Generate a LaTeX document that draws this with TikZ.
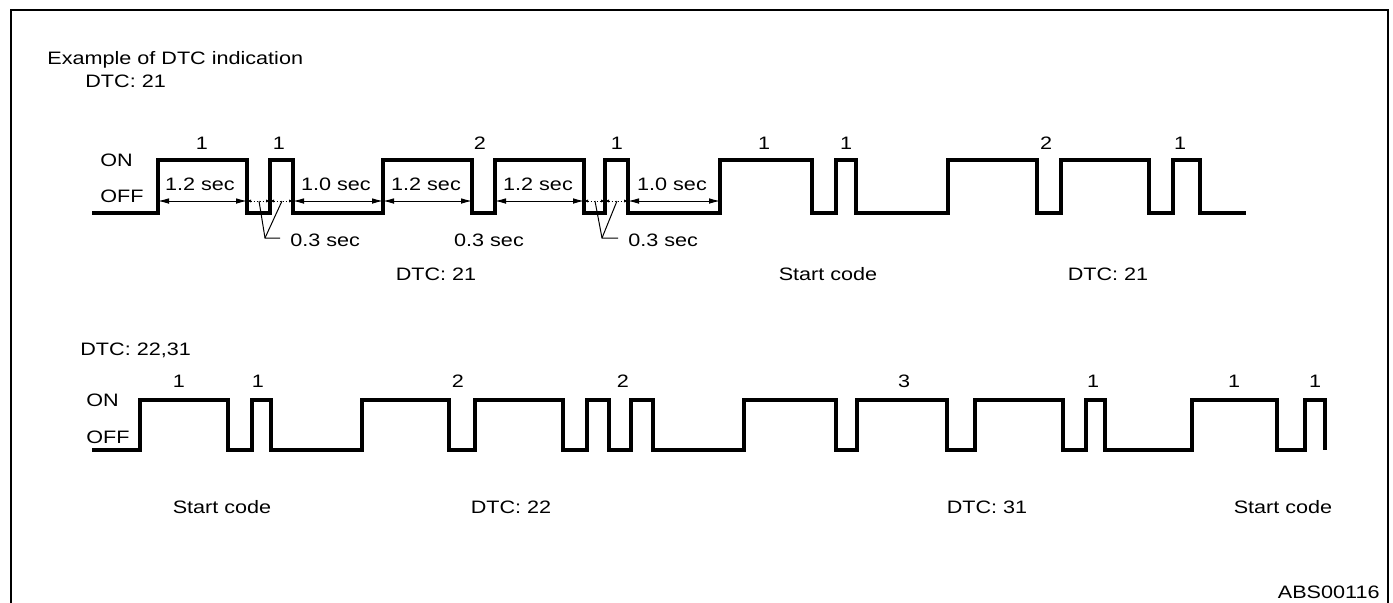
\documentclass[tikz,border=0pt]{standalone}
\usepackage{fontspec}
\setmainfont[FakeStretch=1.2]{Liberation Sans}
\usetikzlibrary{arrows, arrows.meta}

\tikzset{
  txt/.style={font=\fontsize{9pt}{11pt}\selectfont, inner sep=0pt, anchor=base},
  wave/.style={line width=2pt, line join=miter},
  dimline/.style={line width=0.5pt, {Latex[length=5.5pt,width=2.8pt]}-{Latex[length=5.5pt,width=2.8pt]}},
  shortdim/.style={line width=0.5pt, densely dotted, {Latex[length=2pt,width=1.6pt]}-{Latex[length=2pt,width=1.6pt]}},
  leader/.style={line width=0.5pt}
}

\begin{document}
\begin{tikzpicture}[x=0.5pt,y=-0.5pt]
\useasboundingbox (0,0) rectangle (1393,602);
\draw[line width=0.75pt] (11,603) -- (11,10) -- (1388,10) -- (1388,603); %frame

\node[txt, anchor=base west] (title) at (47,64) {Example of DTC indication};
\node[txt, anchor=base west] (code1) at (85,87) {DTC: 21};

%first signal
\node[txt, anchor=base west] (on1)  at (100,166) {ON};
\node[txt, anchor=base west] (off1) at (100,202) {OFF};
\draw[wave] (92,213) -| (158,160) -| (247,213) -| (270,160) -| (293,213)
  -| (383,160) -| (472,213) -| (495,160) -| (584,213) -| (605,160) -| (628,213)
  -| (720,160) -| (812,213) -| (836,160) -| (856,213)
  -| (948,160) -| (1037,213) -| (1061,160) -| (1149,213) -| (1173,160) -| (1200,213) -- (1246,213);

\node[txt] (n1a) at (202,149) {1};
\node[txt] (n1b) at (279,149) {1};
\node[txt] (n1c) at (480,149) {2};
\node[txt] (n1d) at (617,149) {1};
\node[txt] (n1e) at (764,149) {1};
\node[txt] (n1f) at (846,149) {1};
\node[txt] (n1g) at (1046,149) {2};
\node[txt] (n1h) at (1180,149) {1};

%durations
\draw[dimline] (158,201) -- (247,201);
\draw[dimline] (293,201) -- (383,201);
\draw[dimline] (383,201) -- (472,201);
\draw[dimline] (495,201) -- (584,201);
\draw[dimline] (628,201) -- (720,201);
\draw[shortdim] (247,201) -- (270,201);
\draw[shortdim] (270,201) -- (293,201);
\draw[shortdim] (584,201) -- (605,201);
\draw[shortdim] (605,201) -- (628,201);

\node[txt] (d1) at (200,190) {1.2 sec};
\node[txt] (d2) at (336,190) {1.0 sec};
\node[txt] (d3) at (426,190) {1.2 sec};
\node[txt] (d4) at (538,190) {1.2 sec};
\node[txt] (d5) at (672,190) {1.0 sec};

\coordinate (k1) at (265,238);
\coordinate (k2) at (602,238);
\draw[leader] (259,201) -- (k1) -- (280,238);
\draw[leader] (282,201) -- (k1);
\draw[leader] (595,201) -- (k2) -- (618,238);
\draw[leader] (617,201) -- (k2);
\node[txt, anchor=base west] (s1) at (290,246) {0.3 sec};
\node[txt] (s2) at (489,246) {0.3 sec};
\node[txt, anchor=base west] (s3) at (628,246) {0.3 sec};

\node[txt] (g1) at (436,280) {DTC: 21};
\node[txt] (g2) at (828,280) {Start code};
\node[txt] (g3) at (1108,280) {DTC: 21};

%second signal
\node[txt, anchor=base west] (code2) at (80,355) {DTC: 22,31};
\node[txt, anchor=base west] (on2)  at (86,406) {ON};
\node[txt, anchor=base west] (off2) at (86,443) {OFF};
\draw[wave] (92,450) -| (140,400) -| (228,450) -| (252,400) -| (271,450)
  -| (362,400) -| (449,450) -| (475,400) -| (563,450) -| (587,400) -| (609,450) -| (631,400) -| (653,450)
  -| (744,400) -| (836,450) -| (857,400) -| (947,450) -| (975,400) -| (1063,450) -| (1086,400) -| (1105,450)
  -| (1192,400) -| (1277,450) -| (1305,400) -| (1325,450);

\node[txt] (n2a) at (179,387) {1};
\node[txt] (n2b) at (258,387) {1};
\node[txt] (n2c) at (458,387) {2};
\node[txt] (n2d) at (623,387) {2};
\node[txt] (n2e) at (904,387) {3};
\node[txt] (n2f) at (1093,387) {1};
\node[txt] (n2g) at (1234,387) {1};
\node[txt] (n2h) at (1315,387) {1};

\node[txt] (h1) at (222,513) {Start code};
\node[txt] (h2) at (511,513) {DTC: 22};
\node[txt] (h3) at (987,513) {DTC: 31};
\node[txt] (h4) at (1283,513) {Start code};

\node[txt, anchor=base east] (ref) at (1380,598) {ABS00116};
\end{tikzpicture}
\end{document}
